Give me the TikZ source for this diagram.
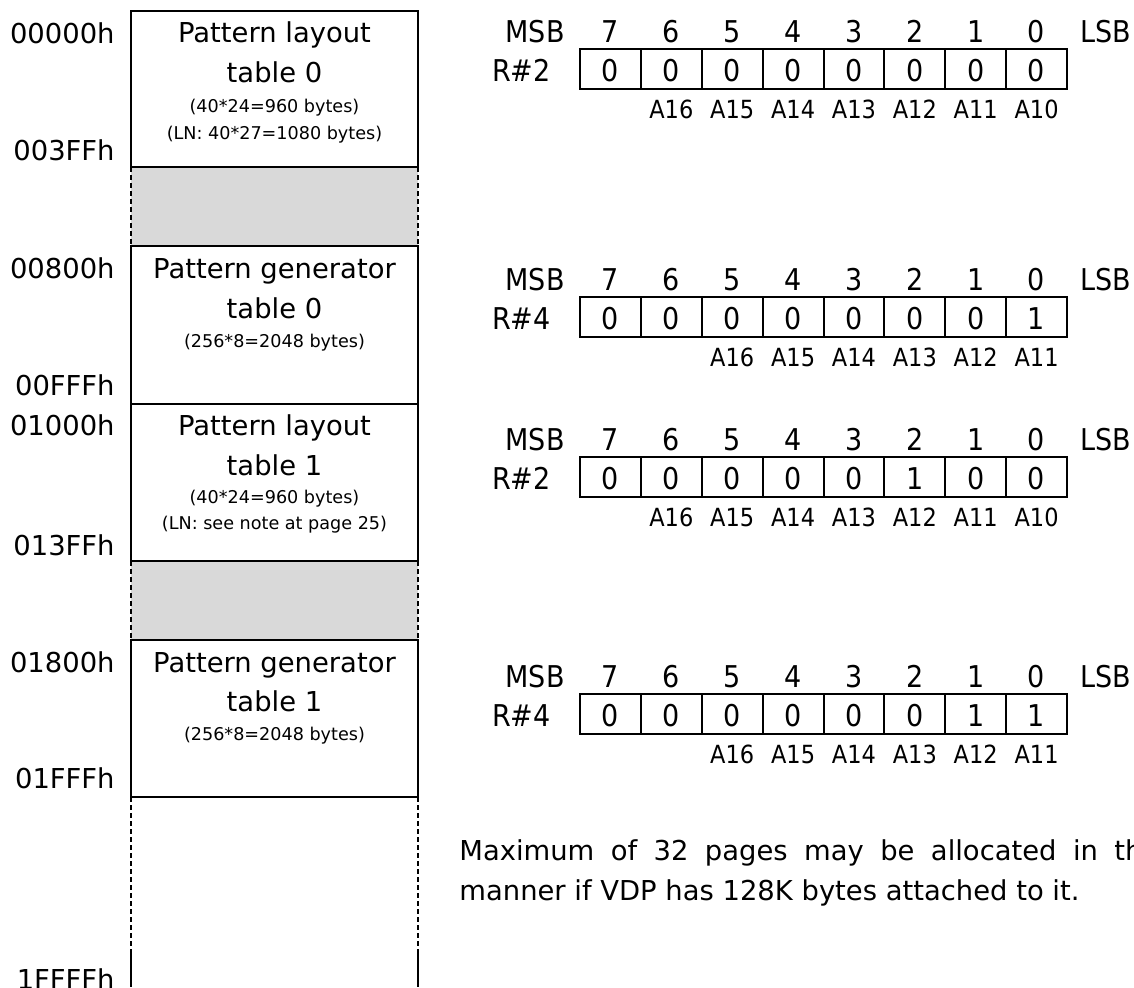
\documentclass[tikz,border=0pt]{standalone}
\usepackage{fontspec}
\setmainfont{DejaVu Sans}
\newfontfamily\regfont{DejaVu Sans Condensed}
\usepackage{xcolor}
\definecolor{gapgrey}{HTML}{D9D9D9}

\tikzset{
  addr/.style={anchor=base east, inner sep=0pt, font=\fontsize{13.7}{16}\selectfont},
  title/.style={anchor=base, inner sep=0pt, font=\fontsize{13.7}{16}\selectfont},
  size/.style={anchor=base, inner sep=0pt, font=\fontsize{8.8}{10}\selectfont},
  regtxt/.style={inner sep=0pt, font=\regfont\fontsize{15}{18}\selectfont},
  adrbit/.style={anchor=base, inner sep=0pt, font=\regfont\fontsize{12.5}{15}\selectfont},
  memline/.style={line width=1pt},
  gapline/.style={line width=1pt, dash pattern=on 2.5pt off 1.5pt},
}

% one register: name, top, label, bit values, first cell with an address
\newcommand{\register}[5]{%
  \node[regtxt, anchor=base east] (#1msb) at (565,#2-7) {MSB};
  \node[regtxt, anchor=base west] (#1lsb) at (1080,#2-7) {LSB};
  \node[regtxt, anchor=base east] (#1reg) at (551,#2+32) {#3};
  \draw[memline] (580,#2) rectangle (1067,#2+40);
  \foreach \val [count=\c from 0] in {#4} {
    \pgfmathtruncatemacro{\bit}{7-\c}
    \node[regtxt, anchor=base] (#1n\c) at ({580+60.875*(\c+0.5)},#2-7) {\bit};
    \node[regtxt, anchor=base] (#1v\c) at ({580+60.875*(\c+0.5)},#2+32) {\val};
    \ifnum\c>0 \draw[memline] ({580+60.875*\c},#2) -- ({580+60.875*\c},#2+40);\fi
  }
  \foreach \c in {#5,...,7} {
    \pgfmathtruncatemacro{\adr}{16-\c+#5}
    \node[adrbit] (#1a\c) at ({580+60.875*(\c+0.5)},#2+69) {A\adr};
  }
}

\begin{document}
\begin{tikzpicture}[x=0.5pt, y=-0.5pt]
  \useasboundingbox (0,0) rectangle (1134,987);
  \clip (0,0) rectangle (1134,987);

  % memory map
  \fill[gapgrey] (131,167) rectangle (418,246);
  \fill[gapgrey] (131,561) rectangle (418,640);
  \draw[gapline] (131,167) -- (131,246) (418,167) -- (418,246);
  \draw[gapline] (131,561) -- (131,640) (418,561) -- (418,640);
  \draw[gapline] (131,797) -- (131,952) (418,797) -- (418,952);
  \draw[memline] (131,952) -- (131,987) (418,952) -- (418,987);
  \draw[memline] (131,11) rectangle (418,167);
  \draw[memline] (131,246) rectangle (418,404);
  \draw[memline] (131,404) rectangle (418,561);
  \draw[memline] (131,640) rectangle (418,797);

  \node[title] (pl0a) at (274.5,42) {Pattern layout};
  \node[title] (pl0b) at (274.5,82) {table 0};
  \node[size] (pl0c) at (274.5,112) {(40*24=960 bytes)};
  \node[size] (pl0d) at (274.5,139) {(LN: 40*27=1080 bytes)};

  \node[title] (pg0a) at (274.5,278) {Pattern generator};
  \node[title] (pg0b) at (274.5,318) {table 0};
  \node[size] (pg0c) at (274.5,347) {(256*8=2048 bytes)};

  \node[title] (pl1a) at (274.5,435) {Pattern layout};
  \node[title] (pl1b) at (274.5,475) {table 1};
  \node[size] (pl1c) at (274.5,503) {(40*24=960 bytes)};
  \node[size] (pl1d) at (274.5,529) {(LN: see note at page 25)};

  \node[title] (pg1a) at (274.5,672) {Pattern generator};
  \node[title] (pg1b) at (274.5,711) {table 1};
  \node[size] (pg1c) at (274.5,740) {(256*8=2048 bytes)};

  \node[addr] (ad0) at (115,43) {00000h};
  \node[addr] (ad1) at (115,160) {003FFh};
  \node[addr] (ad2) at (115,278) {00800h};
  \node[addr] (ad3) at (115,395) {00FFFh};
  \node[addr] (ad4) at (115,435) {01000h};
  \node[addr] (ad5) at (115,555) {013FFh};
  \node[addr] (ad6) at (115,672) {01800h};
  \node[addr] (ad7) at (115,788) {01FFFh};
  \node[addr] (ad8) at (115,989) {1FFFFh};

  % base address registers
  \register{ra}{49}{R\#2}{0,0,0,0,0,0,0,0}{1}
  \register{rb}{297}{R\#4}{0,0,0,0,0,0,0,1}{2}
  \register{rc}{457}{R\#2}{0,0,0,0,0,1,0,0}{1}
  \register{rd}{694}{R\#4}{0,0,0,0,0,0,1,1}{2}

  \node[anchor=base west, inner sep=0pt, font=\fontsize{13.7}{16}\selectfont] (note1) at (459,860)
    {\makebox[352.5pt][s]{Maximum of 32 pages may be allocated in this}};
  \node[anchor=base west, inner sep=0pt, font=\fontsize{13.7}{16}\selectfont] (note2) at (459,900)
    {manner if VDP has 128K bytes attached to it.};
\end{tikzpicture}
\end{document}
